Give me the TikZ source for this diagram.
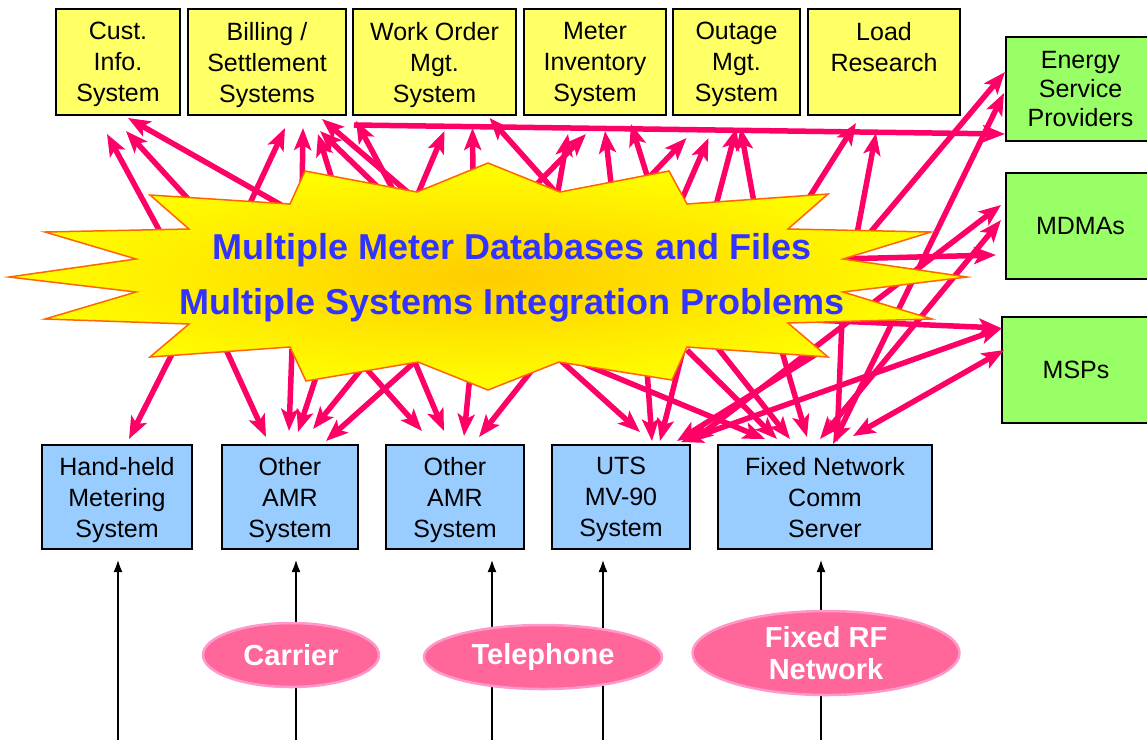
\documentclass[tikz,border=0pt]{standalone}
\usepackage{fontspec}
\setmainfont{Liberation Sans}
\usetikzlibrary{arrows.meta,calc,shapes.geometric}
\definecolor{sysyellow}{RGB}{255,255,102}
\definecolor{agentgreen}{RGB}{153,255,102}
\definecolor{readblue}{RGB}{153,204,255}
\definecolor{linkpink}{RGB}{255,0,102}
\definecolor{netfill}{RGB}{255,102,153}
\definecolor{netline}{RGB}{255,153,204}
\definecolor{burstblue}{RGB}{51,51,255}
\definecolor{burstin}{RGB}{255,204,0}
\definecolor{burstout}{RGB}{255,255,0}
\definecolor{burstline}{RGB}{255,102,0}

\begin{document}
\begin{tikzpicture}[x=1pt, y=-1pt, >={Stealth[length=22pt,width=17pt,inset=5pt]},
    box/.style={draw, line width=2pt, align=center, inner sep=0pt, minimum height=106,
        font=\fontsize{25}{31}\selectfont},
    lower/.style={text depth=-2pt},
    sysbox/.style={box, lower, fill=sysyellow},
    agent/.style={box, fill=agentgreen},
    reader/.style={box, lower, fill=readblue, minimum height=104},
    net/.style={ellipse, draw=netline, line width=2.5pt, fill=netfill, text=white,
        align=center, inner sep=0pt, font=\bfseries\fontsize{29}{32}\selectfont},
    feed/.style={draw, line width=2.5pt, ->, >={Latex[length=13pt,width=9pt]}, shorten >=9pt},
    link/.style={draw=linkpink, line width=5.5pt, ->},
    twoway/.style={link, <->}]
    \useasboundingbox (0,0) rectangle (1147,740);
    % Systems
    \node[sysbox, minimum width=124] (cis) at (118,62) {Cust.\\Info.\\System};
    \node[sysbox, minimum width=158] (bill) at (267,62) {Billing /\\Settlement\\Systems};
    \node[sysbox, minimum width=163] (wo) at (434.5,62) {Work Order\\Mgt.\\System};
    \node[sysbox, minimum width=142] (mi) at (595,62) {Meter\\Inventory\\System};
    \node[sysbox, minimum width=127] (om) at (736.5,62) {Outage\\Mgt.\\System};
    \node[box, fill=sysyellow, minimum width=152] (lr) at (884,62) {Load\\Research\\~};
    \node[agent, minimum width=149, minimum height=104,
        font=\fontsize{25}{29}\selectfont] (esp) at (1080.5,89) {Energy\\Service\\Providers};
    \node[agent, minimum width=149] (mdma) at (1080.5,226) {MDMAs};
    \node[agent, minimum width=148] (msp) at (1076,370) {MSPs};
    % Readers
    \node[reader, minimum width=150] (hh) at (117,497) {Hand-held\\Metering\\System};
    \node[reader, minimum width=136] (amr1) at (290,497) {Other\\AMR\\System};
    \node[reader, minimum width=138] (amr2) at (455,497) {Other\\AMR\\System};
    \node[reader, minimum width=138] (uts) at (621,497) {UTS\\MV-90\\System};
    \node[reader, minimum width=214] (fn) at (825,497) {Fixed Network\\Comm\\Server};
    % Feeds
    \foreach \x [count=\i] in {118, 296, 492, 603, 821}
        \coordinate (b\i) at (\x,740);
    \draw[feed] (b1) -- (b1 |- hh.south);
    \draw[feed] (b2) -- (b2 |- amr1.south);
    \draw[feed] (b3) -- (b3 |- amr2.south);
    \draw[feed] (b4) -- (b4 |- uts.south);
    \draw[feed] (b5) -- (b5 |- fn.south);
    \node[net, minimum width=176, minimum height=64] (car) at (291,655) {Carrier};
    \node[net, minimum width=238, minimum height=64] (tel) at (543,657) {Telephone};
    \node[net, minimum width=267, minimum height=84] (rf) at (826,653) {Fixed RF\\Network};
    % Burst outline
    \foreach \x/\y [count=\i from 0] in {9/277, 136/259, 45/232, 189/229, 150/195,
        290/204, 305/171, 417/192, 488/163, 560/192, 669/171, 687/204,
        828/194, 788/229, 931/232, 843/259, 967/277, 843/292, 932/319,
        788/323, 828/357, 687/347, 672/380, 559/362, 488/390, 418/362,
        306/381, 290/347, 150/357, 189/324, 45/319, 136/292}
        \coordinate (p\i) at (\x,\y);
    % Links up
    \draw[link] ($(p5)+(0,6)$) -- ($(cis.south)+(10,2)$);
    \draw[link] ($(p3)+(-25,10)$) -- ($(cis.south)+(-11,18)$);
    \draw[link] ($(p5)+(-90,8)$) -- ($(cis.south)+(8,15)$);
    \draw[link] ($(p5)+(-45,10)$) -- ($(bill.south)+(18,12)$);
    \draw[link] ($(p5)+(12,-8)$) -- ($(bill.south)+(36,12)$);
    \draw[link] ($(p6)+(30,18)$) -- ($(bill.south)+(51,18)$);
    \draw[link] ($(p7)+(0,8)$) -- ($(bill.south)+(55,3)$);
    \draw[link] ($(p7)+(-30,4)$) -- ($(bill.south)+(53,15)$);
    \draw[link] ($(wo.south west)+(2,9)$) -- ($(esp.south west)+(0,-8)$);
    \draw[link] ($(p7)+(-20,5)$) -- ($(wo.south west)+(4,5)$);
    \draw[link] ($(p7)+(0,4)$) -- ($(wo.south)+(10,15)$);
    \draw[link] ($(p8)+(-15,18)$) -- ($(wo.south)+(38,12)$);
    \draw[link] ($(p9)+(0,5)$) -- ($(wo.south)+(55,2)$);
    \draw[link] ($(p9)+(-3,5)$) -- ($(mi.south)+(-27,18)$);
    \draw[link] ($(p8)+(45,25)$) -- ($(mi.south)+(-9,18)$);
    \draw[link] ($(p9)+(52,0)$) -- ($(mi.south)+(10,15)$);
    \draw[link] ($(p9)+(90,-7)$) -- ($(mi.south)+(36,8)$);
    \draw[link] ($(p9)+(80,-5)$) -- ($(om.south)+(-50,22)$);
    \draw[link] ($(p11)+(-5,-5)$) -- ($(om.south)+(-28,22)$);
    \draw[link] ($(p11)+(28,5)$) -- ($(om.south)+(0,12)$);
    \draw[link] ($(p11)+(68,4)$) -- ($(om.south)+(4,12)$);
    \draw[link] ($(p12)+(-23,10)$) -- ($(lr.south)+(-28,7)$);
    \draw[link] ($(p13)+(68,10)$) -- ($(lr.south)+(-8,17)$);
    \draw[link] ($(p13)+(75,12)$) -- ($(esp.west)+(0,-17)$);
    \draw[link] ($(p15)+(-5,0)$) -- ($(mdma.west)+(-9,29)$);
    \draw[link] ($(p19)+(0,-4)$) -- ($(msp.west)+(0,-42)$);
    % Links across
    \draw[twoway] ($(fn.north)+(8,0)$) -- ($(esp.west)+(-1,4)$);
    \draw[twoway] ($(fn.north)+(-5,-5)$) -- ($(mdma.west)+(-4,-6)$);
    \draw[twoway] ($(uts.north)+(70,-2)$) -- ($(mdma.west)+(-4,-21)$);
    \draw[twoway] ($(uts.north)+(60,-2)$) -- ($(msp.west)+(1,-42)$);
    \draw[twoway] ($(fn.north)+(28,-8)$) -- ($(msp.west)+(3,-20)$);
    % Links down
    \draw[link] ($(p28)+(24,-7)$) -- ($(hh.north)+(12,-5)$);
    \draw[link] ($(p27)+(-66,-2)$) -- ($(amr1.north)+(-24,-7)$);
    \draw[link] ($(p27)+(2,2)$) -- ($(amr1.north)+(-1,-13)$);
    \draw[link] ($(p26)+(12,-10)$) -- ($(amr1.north)+(8,-12)$);
    \draw[link] ($(p25)+(-55,5)$) -- ($(amr1.north)+(23,-15)$);
    \draw[link] ($(p25)+(0,-3)$) -- ($(amr1.north)+(36,-3)$);
    \draw[link] ($(p25)+(-55,3)$) -- ($(amr2.north)+(-33,-13)$);
    \draw[link] ($(p25)+(-4,-2)$) -- ($(amr2.north)+(-11,-13)$);
    \draw[link] ($(p24)+(-18,-15)$) -- ($(amr2.north)+(9,-8)$);
    \draw[link] ($(p23)+(-23,3)$) -- ($(amr2.north)+(24,-7)$);
    \draw[link] ($(p23)+(0,-3)$) -- ($(uts.north)+(19,-12)$);
    \draw[link] ($(p22)+(-25,-10)$) -- ($(uts.north)+(31,-3)$);
    \draw[link] ($(p21)+(-4,3)$) -- ($(uts.north)+(39,-3)$);
    \draw[link] ($(p20)+(-10,-4)$) -- ($(uts.north)+(56,-3)$);
    \draw[link] ($(p23)+(20,0)$) -- ($(fn.north)+(-60,-5)$);
    \draw[link] ($(p21)+(0,3)$) -- ($(fn.north)+(-48,-5)$);
    \draw[link] ($(p21)+(30,0)$) -- ($(fn.north)+(-35,-5)$);
    \draw[link] ($(p19)+(-15,-2)$) -- ($(fn.north)+(-18,-7)$);
    \draw[link] ($(p17)+(0,3)$) -- ($(fn.north)+(12,-2)$);
    % Burst
    \shadedraw[inner color=burstin, outer color=burstout, draw=burstline, line width=1.5pt]
        (p0) \foreach \i in {1,...,31} {-- (p\i)} -- cycle;
    \node[text=burstblue, align=center, font=\bfseries\fontsize{36}{55}\selectfont]
        (issue) at (512,278) {Multiple Meter Databases and Files\\Multiple Systems Integration Problems};
\end{tikzpicture}
\end{document}
